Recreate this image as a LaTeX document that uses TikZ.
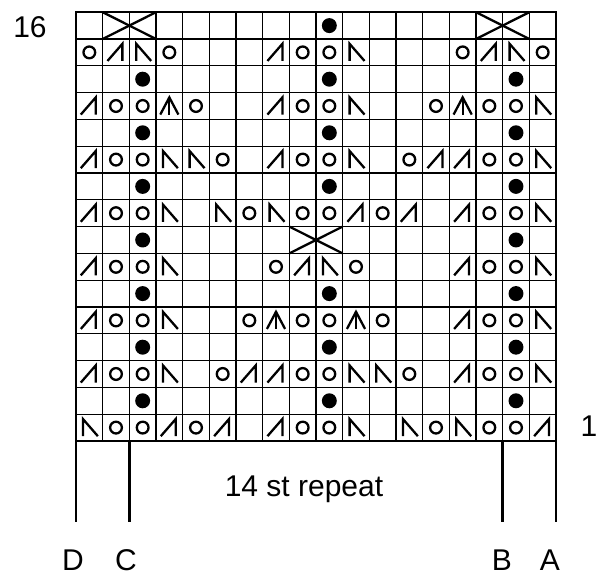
\documentclass[tikz,border=0pt]{standalone}
\usepackage{fontspec}
\setmainfont{Liberation Sans}
\usepackage{tikz}

\tikzset{
  gridline/.style={line width=1.3pt},
  frameline/.style={line width=2.4pt},
  symline/.style={line width=2.3pt},
  legline/.style={line width=2.5pt},
  lbl/.style={font=\fontsize{30}{36}\selectfont, inner sep=0pt, anchor=base}
}

% chart symbols, #1 = column, #2 = row (counted from 1)
\newcommand\kne[2]{}
\newcommand\knn[2]{}
\newcommand\kno[2]{\draw[symline] ({#1-0.5},{#2-0.5}) circle (0.22);}
\newcommand\knb[2]{\fill ({#1-0.5},{#2-0.5}) circle (0.28);}
\newcommand\knk[2]{\draw[symline] ({#1-0.82},{#2-0.82}) -- ({#1-0.26},{#2-0.18}) -- ({#1-0.26},{#2-0.82});}
\newcommand\kns[2]{\draw[symline] ({#1-0.74},{#2-0.82}) -- ({#1-0.74},{#2-0.18}) -- ({#1-0.18},{#2-0.82});}
\newcommand\knc[2]{\draw[symline] ({#1-0.84},{#2-0.82}) -- ({#1-0.5},{#2-0.18}) -- ({#1-0.16},{#2-0.82});
  \draw[symline] ({#1-0.5},{#2-0.18}) -- ({#1-0.5},{#2-0.82});}
\newcommand\knx[2]{\draw[symline] ({#1-1},{#2}) -- ({#1+1},{#2-1});
  \draw[symline] ({#1-1},{#2-1}) -- ({#1+1},{#2});}

\begin{document}
\begin{tikzpicture}[x=26.667pt,y=26.8pt]
  \useasboundingbox (-2.85,-5.075) rectangle (19.65,16.455);
  \foreach \i in {1,...,17} \draw[gridline] (\i,0) -- (\i,16);
  \foreach \j in {1,...,15} \draw[gridline] (0,\j) -- (18,\j);
  % rows of the chart, bottom row is 1
  \foreach \r/\row in {
    16/{e,x,n,e,e,e,e,e,e,b,e,e,e,e,e,x,n,e},
    15/{o,k,s,o,e,e,e,k,o,o,s,e,e,e,o,k,s,o},
    14/{e,e,b,e,e,e,e,e,e,b,e,e,e,e,e,e,b,e},
    13/{k,o,o,c,o,e,e,k,o,o,s,e,e,o,c,o,o,s},
    12/{e,e,b,e,e,e,e,e,e,b,e,e,e,e,e,e,b,e},
    11/{k,o,o,s,s,o,e,k,o,o,s,e,o,k,k,o,o,s},
    10/{e,e,b,e,e,e,e,e,e,b,e,e,e,e,e,e,b,e},
    9/{k,o,o,s,e,s,o,s,o,o,k,o,k,e,k,o,o,s},
    8/{e,e,b,e,e,e,e,e,x,n,e,e,e,e,e,e,b,e},
    7/{k,o,o,s,e,e,e,o,k,s,o,e,e,e,k,o,o,s},
    6/{e,e,b,e,e,e,e,e,e,b,e,e,e,e,e,e,b,e},
    5/{k,o,o,s,e,e,o,c,o,o,c,o,e,e,k,o,o,s},
    4/{e,e,b,e,e,e,e,e,e,b,e,e,e,e,e,e,b,e},
    3/{k,o,o,s,e,o,k,k,o,o,s,s,o,e,k,o,o,s},
    2/{e,e,b,e,e,e,e,e,e,b,e,e,e,e,e,e,b,e},
    1/{s,o,o,k,o,k,e,k,o,o,s,e,s,o,s,o,o,k}}{
    \foreach \c [count=\i] in \row {\csname kn\c\endcsname{\i}{\r}}
  }
  \draw[frameline] (0,0) rectangle (18,16);
  % repeat markers
  \draw[legline] (0,0) -- (0,-3.02);
  \draw[legline] (2,0) -- (2,-3.02);
  \draw[legline] (16,0) -- (16,-3.02);
  \draw[legline] (18,0) -- (18,-3.02);
  \node[lbl] (top) at (-1.725,15.04) {16};
  \node[lbl] (bottom) at (19.24,0.15) {1};
  \node[lbl] (repeat) at (8.55,-2.09) {14 st repeat};
  \node[lbl] (D) at (-0.11,-4.85) {D};
  \node[lbl] (C) at (1.875,-4.85) {C};
  \node[lbl] (B) at (15.97,-4.85) {B};
  \node[lbl] (A) at (17.77,-4.85) {A};
\end{tikzpicture}
\end{document}
